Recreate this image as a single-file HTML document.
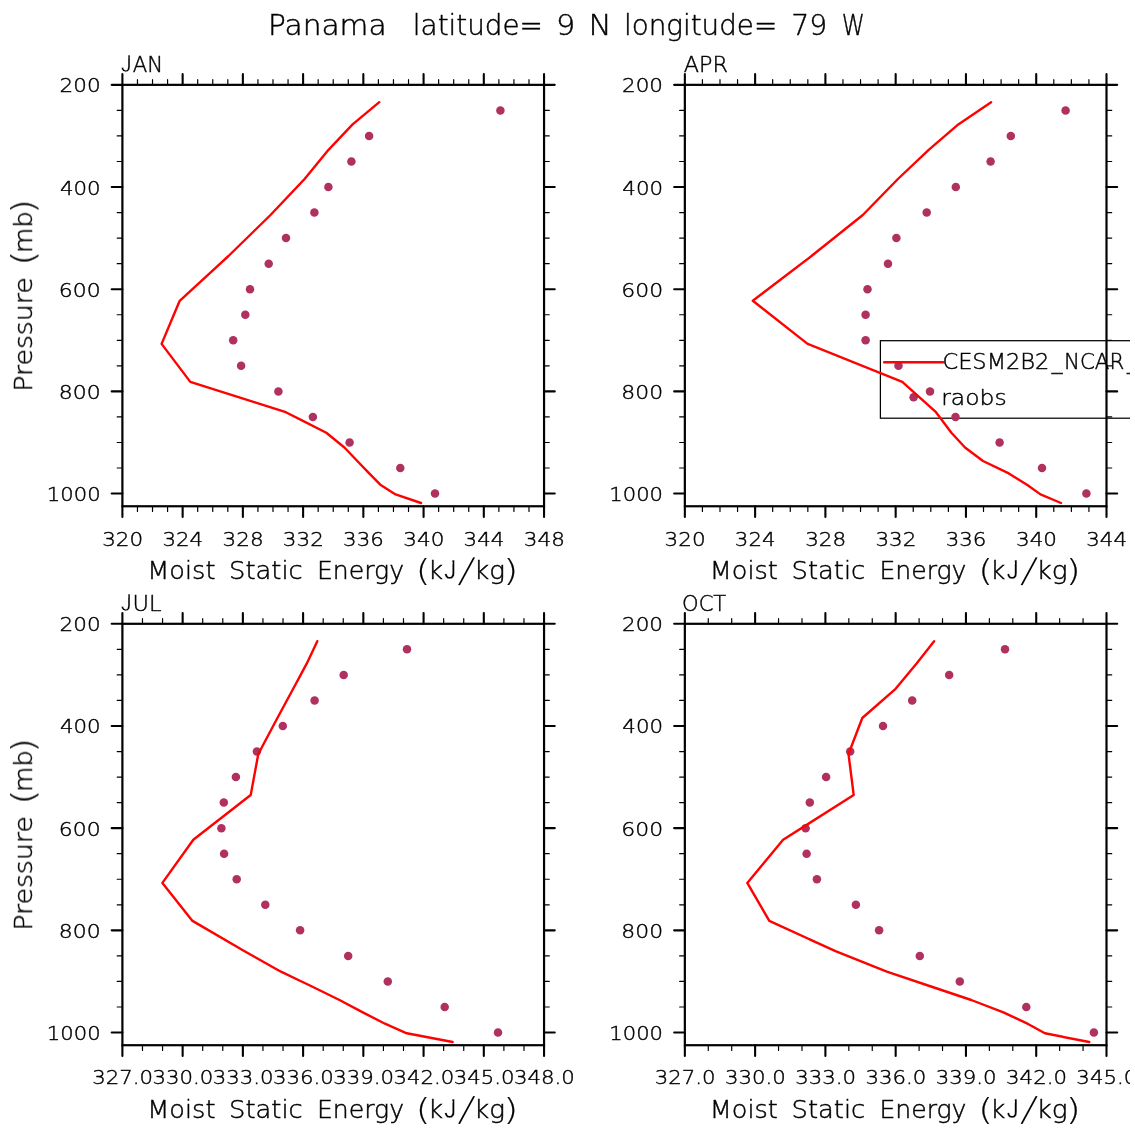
<!DOCTYPE html>
<html lang="en"><head><meta charset="utf-8"><title>Panama latitude= 9 N longitude= 79 W</title>
<style>html,body{margin:0;padding:0;background:#fff}svg{display:block;will-change:transform}text{font-family:'DejaVu Sans Light','DejaVu Sans','Liberation Sans',sans-serif;font-weight:200;fill:#000;stroke:#000;stroke-width:.45px;white-space:pre}.lj{font-family:"Liberation Sans",sans-serif;stroke:#fff;stroke-width:.3px}.sl{stroke:none}.pp{stroke-width:.2px}.fr{fill:none;stroke:#000;stroke-width:2.2}.mj{stroke:#000;stroke-width:2.1;stroke-linecap:round}.mn{stroke:#000;stroke-width:1.2;stroke-linecap:round}.rl{fill:none;stroke:#f00;stroke-width:2.4;stroke-linejoin:round;stroke-linecap:round}.dt{fill:#b03060}</style></head><body>
<svg width="1135" height="1135" viewBox="0 0 1135 1135">
<rect width="1135" height="1135" fill="#fff"/>
<defs><clipPath id="cl"><rect x="0" y="0" width="1129.8" height="1135"/></clipPath></defs>
<g clip-path="url(#cl)" opacity="0.999">
<g id="main-title">
<text><tspan x="268.06" y="35.20" font-size="27.7" textLength="118.47" lengthAdjust="spacingAndGlyphs">Panama</tspan>  <tspan x="412.86" y="35.20" font-size="27.7" textLength="130.02" lengthAdjust="spacingAndGlyphs">latitude=</tspan> <tspan x="555.96" y="35.20" font-size="27.7" textLength="19.27" lengthAdjust="spacingAndGlyphs">9</tspan> <tspan x="588.51" y="35.20" font-size="27.7" textLength="23.19" lengthAdjust="spacingAndGlyphs">N</tspan> <tspan x="624.06" y="35.20" font-size="27.7" textLength="153.11" lengthAdjust="spacingAndGlyphs">longitude=</tspan> <tspan x="791.20" y="35.20" font-size="27.7" textLength="35.88" lengthAdjust="spacingAndGlyphs">79</tspan> <tspan x="841.84" y="35.20" font-size="27.7" textLength="23.09" lengthAdjust="spacingAndGlyphs">W</tspan></text>
</g>
<g id="panel-jan">
<path class="mn" d="M137.46 84.85v-5.2M137.46 506.26v5.2M152.52 84.85v-5.2M152.52 506.26v5.2M167.58 84.85v-5.2M167.58 506.26v5.2M197.69 84.85v-5.2M197.69 506.26v5.2M212.75 84.85v-5.2M212.75 506.26v5.2M227.81 84.85v-5.2M227.81 506.26v5.2M257.93 84.85v-5.2M257.93 506.26v5.2M272.99 84.85v-5.2M272.99 506.26v5.2M288.05 84.85v-5.2M288.05 506.26v5.2M318.17 84.85v-5.2M318.17 506.26v5.2M333.23 84.85v-5.2M333.23 506.26v5.2M348.28 84.85v-5.2M348.28 506.26v5.2M378.40 84.85v-5.2M378.40 506.26v5.2M393.46 84.85v-5.2M393.46 506.26v5.2M408.52 84.85v-5.2M408.52 506.26v5.2M438.64 84.85v-5.2M438.64 506.26v5.2M453.70 84.85v-5.2M453.70 506.26v5.2M468.76 84.85v-5.2M468.76 506.26v5.2M498.87 84.85v-5.2M498.87 506.26v5.2M513.93 84.85v-5.2M513.93 506.26v5.2M528.99 84.85v-5.2M528.99 506.26v5.2M122.40 110.39h-5.2M544.05 110.39h5.2M122.40 135.94h-5.2M544.05 135.94h5.2M122.40 161.49h-5.2M544.05 161.49h5.2M122.40 212.57h-5.2M544.05 212.57h5.2M122.40 238.12h-5.2M544.05 238.12h5.2M122.40 263.66h-5.2M544.05 263.66h5.2M122.40 314.75h-5.2M544.05 314.75h5.2M122.40 340.30h-5.2M544.05 340.30h5.2M122.40 365.85h-5.2M544.05 365.85h5.2M122.40 416.94h-5.2M544.05 416.94h5.2M122.40 442.48h-5.2M544.05 442.48h5.2M122.40 468.02h-5.2M544.05 468.02h5.2"/>
<path class="mj" d="M122.40 84.85v-10.7M122.40 506.26v10.7M182.64 84.85v-10.7M182.64 506.26v10.7M242.87 84.85v-10.7M242.87 506.26v10.7M303.11 84.85v-10.7M303.11 506.26v10.7M363.34 84.85v-10.7M363.34 506.26v10.7M423.58 84.85v-10.7M423.58 506.26v10.7M483.81 84.85v-10.7M483.81 506.26v10.7M544.05 84.85v-10.7M544.05 506.26v10.7M122.40 84.85h-10.7M544.05 84.85h10.7M122.40 187.03h-10.7M544.05 187.03h10.7M122.40 289.21h-10.7M544.05 289.21h10.7M122.40 391.39h-10.7M544.05 391.39h10.7M122.40 493.57h-10.7M544.05 493.57h10.7"/>
<rect class="fr" x="122.40" y="84.85" width="421.65" height="421.41"/>
<circle class="dt" cx="500.4" cy="110.4" r="4.25"/>
<circle class="dt" cx="369.1" cy="135.9" r="4.25"/>
<circle class="dt" cx="351.4" cy="161.5" r="4.25"/>
<circle class="dt" cx="328.4" cy="187.0" r="4.25"/>
<circle class="dt" cx="314.4" cy="212.6" r="4.25"/>
<circle class="dt" cx="286.0" cy="238.1" r="4.25"/>
<circle class="dt" cx="268.7" cy="263.7" r="4.25"/>
<circle class="dt" cx="250.0" cy="289.2" r="4.25"/>
<circle class="dt" cx="245.3" cy="314.8" r="4.25"/>
<circle class="dt" cx="233.2" cy="340.3" r="4.25"/>
<circle class="dt" cx="241.1" cy="365.8" r="4.25"/>
<circle class="dt" cx="278.4" cy="391.4" r="4.25"/>
<circle class="dt" cx="312.9" cy="416.9" r="4.25"/>
<circle class="dt" cx="349.6" cy="442.5" r="4.25"/>
<circle class="dt" cx="400.3" cy="468.0" r="4.25"/>
<circle class="dt" cx="435.0" cy="493.6" r="4.25"/>
<polyline class="rl" points="379.3,102.2 352.6,124.4 328.5,149.8 304.6,179.0 270.5,215.0 228.5,256.0 179.7,300.8 161.6,343.9 190.3,381.9 285.8,412.2 326.3,432.7 344.4,447.5 357.3,461.0 369.2,473.4 380.3,484.7 395.6,494.4 421.0,503.0"/>
<text><tspan class="lj" x="121.07" y="71.93" font-size="23.93" textLength="10.55" lengthAdjust="spacingAndGlyphs">J</tspan><tspan x="132.77" y="71.90" font-size="21.8" textLength="30.37" lengthAdjust="spacingAndGlyphs">AN</tspan></text>
<text><tspan x="59.56" y="92.35" font-size="20.2" textLength="41.07" lengthAdjust="spacingAndGlyphs">200</tspan></text>
<text><tspan x="59.90" y="194.53" font-size="20.2" textLength="40.71" lengthAdjust="spacingAndGlyphs">400</tspan></text>
<text><tspan x="58.85" y="296.71" font-size="20.2" textLength="41.81" lengthAdjust="spacingAndGlyphs">600</tspan></text>
<text><tspan x="58.85" y="398.89" font-size="20.2" textLength="41.81" lengthAdjust="spacingAndGlyphs">800</tspan></text>
<text><tspan x="46.89" y="501.07" font-size="20.2" textLength="53.69" lengthAdjust="spacingAndGlyphs">1000</tspan></text>
<text><tspan x="102.16" y="545.50" font-size="20.2" textLength="41.07" lengthAdjust="spacingAndGlyphs">320</tspan></text>
<text><tspan x="162.40" y="545.50" font-size="20.2" textLength="40.71" lengthAdjust="spacingAndGlyphs">324</tspan></text>
<text><tspan x="222.63" y="545.50" font-size="20.2" textLength="41.07" lengthAdjust="spacingAndGlyphs">328</tspan></text>
<text><tspan x="282.86" y="545.50" font-size="20.2" textLength="41.07" lengthAdjust="spacingAndGlyphs">332</tspan></text>
<text><tspan x="343.11" y="545.50" font-size="20.2" textLength="40.71" lengthAdjust="spacingAndGlyphs">336</tspan></text>
<text><tspan x="403.33" y="545.50" font-size="20.2" textLength="41.07" lengthAdjust="spacingAndGlyphs">340</tspan></text>
<text><tspan x="463.58" y="545.50" font-size="20.2" textLength="40.71" lengthAdjust="spacingAndGlyphs">344</tspan></text>
<text><tspan x="523.81" y="545.50" font-size="20.2" textLength="41.07" lengthAdjust="spacingAndGlyphs">348</tspan></text>
<text><tspan x="147.31" y="579.30" font-size="24.4" textLength="68.13" lengthAdjust="spacingAndGlyphs">Moist</tspan> <tspan x="229.09" y="579.30" font-size="24.4" textLength="73.70" lengthAdjust="spacingAndGlyphs">Static</tspan> <tspan x="316.95" y="579.30" font-size="24.4" textLength="87.08" lengthAdjust="spacingAndGlyphs">Energy</tspan> <tspan class="pp" x="415.86" y="580.63" font-size="30.34" textLength="14.77" lengthAdjust="spacingAndGlyphs">(</tspan><tspan x="427.92" y="579.30" font-size="24.4" textLength="15.12" lengthAdjust="spacingAndGlyphs">k</tspan><tspan class="lj" x="444.23" y="579.38" font-size="26.85" textLength="11.97" lengthAdjust="spacingAndGlyphs">J</tspan><tspan class="sl" x="458.20" y="581.40" font-size="36.7" rotate="11.3">/</tspan><tspan x="474.08" y="579.30" font-size="24.4" textLength="15.27" lengthAdjust="spacingAndGlyphs">k</tspan><tspan x="489.35" y="579.30" font-size="24.4" textLength="15.76" lengthAdjust="spacingAndGlyphs">g</tspan><tspan class="pp" x="503.30" y="580.63" font-size="30.34" textLength="14.98" lengthAdjust="spacingAndGlyphs">)</tspan></text>
<text transform="translate(32.00 388.70) rotate(-90)"><tspan x="-2.93" y="0.00" font-size="24.4" textLength="114.36" lengthAdjust="spacingAndGlyphs">Pressure</tspan> <tspan class="pp" x="122.83" y="1.72" font-size="31.12" textLength="15.61" lengthAdjust="spacingAndGlyphs">(</tspan><tspan x="135.76" y="0.00" font-size="24.4" textLength="41.71" lengthAdjust="spacingAndGlyphs">mb</tspan><tspan class="pp" x="175.12" y="1.72" font-size="31.12" textLength="14.57" lengthAdjust="spacingAndGlyphs">)</tspan></text>
</g>
<g id="panel-apr">
<rect id="legend-box" x="880.4" y="340.7" width="260" height="77.5" fill="none" stroke="#000" stroke-width="1.25"/>
<path class="mn" d="M702.42 84.85v-5.2M702.42 506.26v5.2M719.99 84.85v-5.2M719.99 506.26v5.2M737.56 84.85v-5.2M737.56 506.26v5.2M772.69 84.85v-5.2M772.69 506.26v5.2M790.26 84.85v-5.2M790.26 506.26v5.2M807.83 84.85v-5.2M807.83 506.26v5.2M842.97 84.85v-5.2M842.97 506.26v5.2M860.54 84.85v-5.2M860.54 506.26v5.2M878.11 84.85v-5.2M878.11 506.26v5.2M913.24 84.85v-5.2M913.24 506.26v5.2M930.81 84.85v-5.2M930.81 506.26v5.2M948.38 84.85v-5.2M948.38 506.26v5.2M983.52 84.85v-5.2M983.52 506.26v5.2M1001.09 84.85v-5.2M1001.09 506.26v5.2M1018.66 84.85v-5.2M1018.66 506.26v5.2M1053.79 84.85v-5.2M1053.79 506.26v5.2M1071.36 84.85v-5.2M1071.36 506.26v5.2M1088.93 84.85v-5.2M1088.93 506.26v5.2M684.85 110.39h-5.2M1106.50 110.39h5.2M684.85 135.94h-5.2M1106.50 135.94h5.2M684.85 161.49h-5.2M1106.50 161.49h5.2M684.85 212.57h-5.2M1106.50 212.57h5.2M684.85 238.12h-5.2M1106.50 238.12h5.2M684.85 263.66h-5.2M1106.50 263.66h5.2M684.85 314.75h-5.2M1106.50 314.75h5.2M684.85 340.30h-5.2M1106.50 340.30h5.2M684.85 365.85h-5.2M1106.50 365.85h5.2M684.85 416.94h-5.2M1106.50 416.94h5.2M684.85 442.48h-5.2M1106.50 442.48h5.2M684.85 468.02h-5.2M1106.50 468.02h5.2"/>
<path class="mj" d="M684.85 84.85v-10.7M684.85 506.26v10.7M755.12 84.85v-10.7M755.12 506.26v10.7M825.40 84.85v-10.7M825.40 506.26v10.7M895.67 84.85v-10.7M895.67 506.26v10.7M965.95 84.85v-10.7M965.95 506.26v10.7M1036.22 84.85v-10.7M1036.22 506.26v10.7M1106.50 84.85v-10.7M1106.50 506.26v10.7M684.85 84.85h-10.7M1106.50 84.85h10.7M684.85 187.03h-10.7M1106.50 187.03h10.7M684.85 289.21h-10.7M1106.50 289.21h10.7M684.85 391.39h-10.7M1106.50 391.39h10.7M684.85 493.57h-10.7M1106.50 493.57h10.7"/>
<rect class="fr" x="684.85" y="84.85" width="421.65" height="421.41"/>
<circle class="dt" cx="1065.6" cy="110.4" r="4.25"/>
<circle class="dt" cx="1010.8" cy="135.9" r="4.25"/>
<circle class="dt" cx="990.6" cy="161.5" r="4.25"/>
<circle class="dt" cx="955.8" cy="187.0" r="4.25"/>
<circle class="dt" cx="926.7" cy="212.6" r="4.25"/>
<circle class="dt" cx="896.4" cy="238.1" r="4.25"/>
<circle class="dt" cx="888.0" cy="263.7" r="4.25"/>
<circle class="dt" cx="867.5" cy="289.2" r="4.25"/>
<circle class="dt" cx="865.6" cy="314.8" r="4.25"/>
<circle class="dt" cx="865.6" cy="340.3" r="4.25"/>
<circle class="dt" cx="898.5" cy="365.8" r="4.25"/>
<circle class="dt" cx="930.0" cy="391.4" r="4.25"/>
<circle class="dt" cx="955.5" cy="416.9" r="4.25"/>
<circle class="dt" cx="999.6" cy="442.5" r="4.25"/>
<circle class="dt" cx="1042.0" cy="468.0" r="4.25"/>
<circle class="dt" cx="1086.4" cy="493.6" r="4.25"/>
<circle class="dt" cx="913.6" cy="397.2" r="4.25"/>
<polyline class="rl" points="991.1,102.2 958.3,124.4 928.7,149.8 897.9,179.0 862.8,215.0 811.5,256.0 752.8,300.8 807.6,343.9 902.3,381.9 936.0,412.2 951.4,432.7 965.0,447.5 983.0,461.0 1008.8,473.4 1027.0,484.7 1040.5,494.4 1061.0,503.0"/>
<path class="rl" d="M884.2 362.2H943.2"/>
<text><tspan x="942.44" y="369.10" font-size="21.8" textLength="106.97" lengthAdjust="spacingAndGlyphs">CESM2B2</tspan><tspan x="1051.64" y="369.10" font-size="21.8" textLength="10.82" lengthAdjust="spacingAndGlyphs">_</tspan><tspan x="1063.96" y="369.10" font-size="21.8" textLength="60.36" lengthAdjust="spacingAndGlyphs">NCAR</tspan><tspan x="1127.04" y="369.10" font-size="21.8" textLength="10.82" lengthAdjust="spacingAndGlyphs">_</tspan></text>
<text><tspan x="941.24" y="405.20" font-size="21.8" textLength="65.35" lengthAdjust="spacingAndGlyphs">raobs</tspan></text>
<text><tspan x="683.75" y="71.90" font-size="21.8" textLength="44.21" lengthAdjust="spacingAndGlyphs">APR</tspan></text>
<text><tspan x="622.01" y="92.35" font-size="20.2" textLength="41.07" lengthAdjust="spacingAndGlyphs">200</tspan></text>
<text><tspan x="622.35" y="194.53" font-size="20.2" textLength="40.71" lengthAdjust="spacingAndGlyphs">400</tspan></text>
<text><tspan x="621.30" y="296.71" font-size="20.2" textLength="41.81" lengthAdjust="spacingAndGlyphs">600</tspan></text>
<text><tspan x="621.30" y="398.89" font-size="20.2" textLength="41.81" lengthAdjust="spacingAndGlyphs">800</tspan></text>
<text><tspan x="609.34" y="501.07" font-size="20.2" textLength="53.69" lengthAdjust="spacingAndGlyphs">1000</tspan></text>
<text><tspan x="664.61" y="545.50" font-size="20.2" textLength="41.07" lengthAdjust="spacingAndGlyphs">320</tspan></text>
<text><tspan x="734.89" y="545.50" font-size="20.2" textLength="40.71" lengthAdjust="spacingAndGlyphs">324</tspan></text>
<text><tspan x="805.16" y="545.50" font-size="20.2" textLength="41.07" lengthAdjust="spacingAndGlyphs">328</tspan></text>
<text><tspan x="875.43" y="545.50" font-size="20.2" textLength="41.07" lengthAdjust="spacingAndGlyphs">332</tspan></text>
<text><tspan x="945.72" y="545.50" font-size="20.2" textLength="40.71" lengthAdjust="spacingAndGlyphs">336</tspan></text>
<text><tspan x="1015.98" y="545.50" font-size="20.2" textLength="41.07" lengthAdjust="spacingAndGlyphs">340</tspan></text>
<text><tspan x="1086.27" y="545.50" font-size="20.2" textLength="40.71" lengthAdjust="spacingAndGlyphs">344</tspan></text>
<text><tspan x="709.76" y="579.30" font-size="24.4" textLength="68.13" lengthAdjust="spacingAndGlyphs">Moist</tspan> <tspan x="791.54" y="579.30" font-size="24.4" textLength="73.70" lengthAdjust="spacingAndGlyphs">Static</tspan> <tspan x="879.40" y="579.30" font-size="24.4" textLength="87.08" lengthAdjust="spacingAndGlyphs">Energy</tspan> <tspan class="pp" x="978.31" y="580.63" font-size="30.34" textLength="14.77" lengthAdjust="spacingAndGlyphs">(</tspan><tspan x="990.37" y="579.30" font-size="24.4" textLength="15.12" lengthAdjust="spacingAndGlyphs">k</tspan><tspan class="lj" x="1006.68" y="579.38" font-size="26.85" textLength="11.97" lengthAdjust="spacingAndGlyphs">J</tspan><tspan class="sl" x="1020.65" y="581.40" font-size="36.7" rotate="11.3">/</tspan><tspan x="1036.53" y="579.30" font-size="24.4" textLength="15.27" lengthAdjust="spacingAndGlyphs">k</tspan><tspan x="1051.80" y="579.30" font-size="24.4" textLength="15.76" lengthAdjust="spacingAndGlyphs">g</tspan><tspan class="pp" x="1065.75" y="580.63" font-size="30.34" textLength="14.98" lengthAdjust="spacingAndGlyphs">)</tspan></text>
</g>
<g id="panel-jul">
<path class="mn" d="M142.48 623.80v-5.2M142.48 1045.21v5.2M162.56 623.80v-5.2M162.56 1045.21v5.2M202.71 623.80v-5.2M202.71 1045.21v5.2M222.79 623.80v-5.2M222.79 1045.21v5.2M262.95 623.80v-5.2M262.95 1045.21v5.2M283.03 623.80v-5.2M283.03 1045.21v5.2M323.19 623.80v-5.2M323.19 1045.21v5.2M343.26 623.80v-5.2M343.26 1045.21v5.2M383.42 623.80v-5.2M383.42 1045.21v5.2M403.50 623.80v-5.2M403.50 1045.21v5.2M443.66 623.80v-5.2M443.66 1045.21v5.2M463.74 623.80v-5.2M463.74 1045.21v5.2M503.89 623.80v-5.2M503.89 1045.21v5.2M523.97 623.80v-5.2M523.97 1045.21v5.2M122.40 649.35h-5.2M544.05 649.35h5.2M122.40 674.89h-5.2M544.05 674.89h5.2M122.40 700.44h-5.2M544.05 700.44h5.2M122.40 751.53h-5.2M544.05 751.53h5.2M122.40 777.07h-5.2M544.05 777.07h5.2M122.40 802.62h-5.2M544.05 802.62h5.2M122.40 853.71h-5.2M544.05 853.71h5.2M122.40 879.25h-5.2M544.05 879.25h5.2M122.40 904.80h-5.2M544.05 904.80h5.2M122.40 955.89h-5.2M544.05 955.89h5.2M122.40 981.43h-5.2M544.05 981.43h5.2M122.40 1006.98h-5.2M544.05 1006.98h5.2"/>
<path class="mj" d="M122.40 623.80v-10.7M122.40 1045.21v10.7M182.64 623.80v-10.7M182.64 1045.21v10.7M242.87 623.80v-10.7M242.87 1045.21v10.7M303.11 623.80v-10.7M303.11 1045.21v10.7M363.34 623.80v-10.7M363.34 1045.21v10.7M423.58 623.80v-10.7M423.58 1045.21v10.7M483.81 623.80v-10.7M483.81 1045.21v10.7M544.05 623.80v-10.7M544.05 1045.21v10.7M122.40 623.80h-10.7M544.05 623.80h10.7M122.40 725.98h-10.7M544.05 725.98h10.7M122.40 828.16h-10.7M544.05 828.16h10.7M122.40 930.34h-10.7M544.05 930.34h10.7M122.40 1032.52h-10.7M544.05 1032.52h10.7"/>
<rect class="fr" x="122.40" y="623.80" width="421.65" height="421.41"/>
<circle class="dt" cx="407.0" cy="649.3" r="4.25"/>
<circle class="dt" cx="343.7" cy="674.9" r="4.25"/>
<circle class="dt" cx="314.6" cy="700.4" r="4.25"/>
<circle class="dt" cx="282.8" cy="726.0" r="4.25"/>
<circle class="dt" cx="256.9" cy="751.5" r="4.25"/>
<circle class="dt" cx="235.9" cy="777.1" r="4.25"/>
<circle class="dt" cx="223.8" cy="802.6" r="4.25"/>
<circle class="dt" cx="221.4" cy="828.2" r="4.25"/>
<circle class="dt" cx="224.1" cy="853.7" r="4.25"/>
<circle class="dt" cx="236.7" cy="879.3" r="4.25"/>
<circle class="dt" cx="265.3" cy="904.8" r="4.25"/>
<circle class="dt" cx="300.1" cy="930.3" r="4.25"/>
<circle class="dt" cx="348.2" cy="955.9" r="4.25"/>
<circle class="dt" cx="387.8" cy="981.4" r="4.25"/>
<circle class="dt" cx="444.7" cy="1007.0" r="4.25"/>
<circle class="dt" cx="498.0" cy="1032.5" r="4.25"/>
<polyline class="rl" points="317.3,641.2 306.8,663.4 293.2,688.8 277.4,718.0 258.3,754.0 250.7,795.0 193.3,839.8 162.4,882.9 192.5,920.9 244.6,951.2 281.0,971.7 312.0,986.5 339.5,1000.0 362.8,1012.4 385.0,1023.7 406.8,1033.3 452.6,1042.0"/>
<text><tspan class="lj" x="121.07" y="610.93" font-size="23.93" textLength="10.55" lengthAdjust="spacingAndGlyphs">J</tspan><tspan x="132.64" y="610.90" font-size="21.8" textLength="29.05" lengthAdjust="spacingAndGlyphs">UL</tspan></text>
<text><tspan x="59.56" y="631.30" font-size="20.2" textLength="41.07" lengthAdjust="spacingAndGlyphs">200</tspan></text>
<text><tspan x="59.90" y="733.48" font-size="20.2" textLength="40.71" lengthAdjust="spacingAndGlyphs">400</tspan></text>
<text><tspan x="58.85" y="835.66" font-size="20.2" textLength="41.81" lengthAdjust="spacingAndGlyphs">600</tspan></text>
<text><tspan x="58.85" y="937.84" font-size="20.2" textLength="41.81" lengthAdjust="spacingAndGlyphs">800</tspan></text>
<text><tspan x="46.89" y="1040.02" font-size="20.2" textLength="53.69" lengthAdjust="spacingAndGlyphs">1000</tspan></text>
<text><tspan x="92.27" y="1084.45" font-size="20.2" textLength="60.83" lengthAdjust="spacingAndGlyphs">327.0</tspan></text>
<text><tspan x="152.51" y="1084.45" font-size="20.2" textLength="60.83" lengthAdjust="spacingAndGlyphs">330.0</tspan></text>
<text><tspan x="212.74" y="1084.45" font-size="20.2" textLength="60.83" lengthAdjust="spacingAndGlyphs">333.0</tspan></text>
<text><tspan x="272.98" y="1084.45" font-size="20.2" textLength="60.83" lengthAdjust="spacingAndGlyphs">336.0</tspan></text>
<text><tspan x="333.21" y="1084.45" font-size="20.2" textLength="60.83" lengthAdjust="spacingAndGlyphs">339.0</tspan></text>
<text><tspan x="393.45" y="1084.45" font-size="20.2" textLength="60.83" lengthAdjust="spacingAndGlyphs">342.0</tspan></text>
<text><tspan x="453.69" y="1084.45" font-size="20.2" textLength="60.83" lengthAdjust="spacingAndGlyphs">345.0</tspan></text>
<text><tspan x="513.92" y="1084.45" font-size="20.2" textLength="60.83" lengthAdjust="spacingAndGlyphs">348.0</tspan></text>
<text><tspan x="147.31" y="1118.25" font-size="24.4" textLength="68.13" lengthAdjust="spacingAndGlyphs">Moist</tspan> <tspan x="229.09" y="1118.25" font-size="24.4" textLength="73.70" lengthAdjust="spacingAndGlyphs">Static</tspan> <tspan x="316.95" y="1118.25" font-size="24.4" textLength="87.08" lengthAdjust="spacingAndGlyphs">Energy</tspan> <tspan class="pp" x="415.86" y="1119.58" font-size="30.34" textLength="14.77" lengthAdjust="spacingAndGlyphs">(</tspan><tspan x="427.92" y="1118.25" font-size="24.4" textLength="15.12" lengthAdjust="spacingAndGlyphs">k</tspan><tspan class="lj" x="444.23" y="1118.33" font-size="26.85" textLength="11.97" lengthAdjust="spacingAndGlyphs">J</tspan><tspan class="sl" x="458.20" y="1120.35" font-size="36.7" rotate="11.3">/</tspan><tspan x="474.08" y="1118.25" font-size="24.4" textLength="15.27" lengthAdjust="spacingAndGlyphs">k</tspan><tspan x="489.35" y="1118.25" font-size="24.4" textLength="15.76" lengthAdjust="spacingAndGlyphs">g</tspan><tspan class="pp" x="503.30" y="1119.58" font-size="30.34" textLength="14.98" lengthAdjust="spacingAndGlyphs">)</tspan></text>
<text transform="translate(32.00 927.65) rotate(-90)"><tspan x="-2.93" y="0.00" font-size="24.4" textLength="114.36" lengthAdjust="spacingAndGlyphs">Pressure</tspan> <tspan class="pp" x="122.83" y="1.72" font-size="31.12" textLength="15.61" lengthAdjust="spacingAndGlyphs">(</tspan><tspan x="135.76" y="0.00" font-size="24.4" textLength="41.71" lengthAdjust="spacingAndGlyphs">mb</tspan><tspan class="pp" x="175.12" y="1.72" font-size="31.12" textLength="14.57" lengthAdjust="spacingAndGlyphs">)</tspan></text>
</g>
<g id="panel-oct">
<path class="mn" d="M708.27 623.80v-5.2M708.27 1045.21v5.2M731.70 623.80v-5.2M731.70 1045.21v5.2M778.55 623.80v-5.2M778.55 1045.21v5.2M801.98 623.80v-5.2M801.98 1045.21v5.2M848.82 623.80v-5.2M848.82 1045.21v5.2M872.25 623.80v-5.2M872.25 1045.21v5.2M919.10 623.80v-5.2M919.10 1045.21v5.2M942.52 623.80v-5.2M942.52 1045.21v5.2M989.38 623.80v-5.2M989.38 1045.21v5.2M1012.80 623.80v-5.2M1012.80 1045.21v5.2M1059.65 623.80v-5.2M1059.65 1045.21v5.2M1083.07 623.80v-5.2M1083.07 1045.21v5.2M684.85 649.35h-5.2M1106.50 649.35h5.2M684.85 674.89h-5.2M1106.50 674.89h5.2M684.85 700.44h-5.2M1106.50 700.44h5.2M684.85 751.53h-5.2M1106.50 751.53h5.2M684.85 777.07h-5.2M1106.50 777.07h5.2M684.85 802.62h-5.2M1106.50 802.62h5.2M684.85 853.71h-5.2M1106.50 853.71h5.2M684.85 879.25h-5.2M1106.50 879.25h5.2M684.85 904.80h-5.2M1106.50 904.80h5.2M684.85 955.89h-5.2M1106.50 955.89h5.2M684.85 981.43h-5.2M1106.50 981.43h5.2M684.85 1006.98h-5.2M1106.50 1006.98h5.2"/>
<path class="mj" d="M684.85 623.80v-10.7M684.85 1045.21v10.7M755.12 623.80v-10.7M755.12 1045.21v10.7M825.40 623.80v-10.7M825.40 1045.21v10.7M895.67 623.80v-10.7M895.67 1045.21v10.7M965.95 623.80v-10.7M965.95 1045.21v10.7M1036.22 623.80v-10.7M1036.22 1045.21v10.7M1106.50 623.80v-10.7M1106.50 1045.21v10.7M684.85 623.80h-10.7M1106.50 623.80h10.7M684.85 725.98h-10.7M1106.50 725.98h10.7M684.85 828.16h-10.7M1106.50 828.16h10.7M684.85 930.34h-10.7M1106.50 930.34h10.7M684.85 1032.52h-10.7M1106.50 1032.52h10.7"/>
<rect class="fr" x="684.85" y="623.80" width="421.65" height="421.41"/>
<circle class="dt" cx="1005.0" cy="649.3" r="4.25"/>
<circle class="dt" cx="949.2" cy="674.9" r="4.25"/>
<circle class="dt" cx="912.2" cy="700.4" r="4.25"/>
<circle class="dt" cx="883.0" cy="726.0" r="4.25"/>
<circle class="dt" cx="850.2" cy="751.5" r="4.25"/>
<circle class="dt" cx="826.1" cy="777.1" r="4.25"/>
<circle class="dt" cx="809.8" cy="802.6" r="4.25"/>
<circle class="dt" cx="805.6" cy="828.2" r="4.25"/>
<circle class="dt" cx="806.6" cy="853.7" r="4.25"/>
<circle class="dt" cx="816.9" cy="879.3" r="4.25"/>
<circle class="dt" cx="855.9" cy="904.8" r="4.25"/>
<circle class="dt" cx="879.1" cy="930.3" r="4.25"/>
<circle class="dt" cx="919.8" cy="955.9" r="4.25"/>
<circle class="dt" cx="959.8" cy="981.4" r="4.25"/>
<circle class="dt" cx="1026.3" cy="1007.0" r="4.25"/>
<circle class="dt" cx="1093.9" cy="1032.5" r="4.25"/>
<polyline class="rl" points="934.1,641.2 916.6,663.4 895.6,688.8 862.3,718.0 848.5,754.0 853.7,795.0 783.1,839.8 747.3,882.9 769.3,920.9 835.5,951.2 886.8,971.7 931.0,986.5 971.3,1000.0 1003.4,1012.4 1027.5,1023.7 1044.9,1033.3 1089.2,1042.0"/>
<text><tspan x="682.05" y="610.90" font-size="21.8" textLength="44.21" lengthAdjust="spacingAndGlyphs">OCT</tspan></text>
<text><tspan x="622.01" y="631.30" font-size="20.2" textLength="41.07" lengthAdjust="spacingAndGlyphs">200</tspan></text>
<text><tspan x="622.35" y="733.48" font-size="20.2" textLength="40.71" lengthAdjust="spacingAndGlyphs">400</tspan></text>
<text><tspan x="621.30" y="835.66" font-size="20.2" textLength="41.81" lengthAdjust="spacingAndGlyphs">600</tspan></text>
<text><tspan x="621.30" y="937.84" font-size="20.2" textLength="41.81" lengthAdjust="spacingAndGlyphs">800</tspan></text>
<text><tspan x="609.34" y="1040.02" font-size="20.2" textLength="53.69" lengthAdjust="spacingAndGlyphs">1000</tspan></text>
<text><tspan x="654.72" y="1084.45" font-size="20.2" textLength="60.83" lengthAdjust="spacingAndGlyphs">327.0</tspan></text>
<text><tspan x="725.00" y="1084.45" font-size="20.2" textLength="60.83" lengthAdjust="spacingAndGlyphs">330.0</tspan></text>
<text><tspan x="795.27" y="1084.45" font-size="20.2" textLength="60.83" lengthAdjust="spacingAndGlyphs">333.0</tspan></text>
<text><tspan x="865.55" y="1084.45" font-size="20.2" textLength="60.83" lengthAdjust="spacingAndGlyphs">336.0</tspan></text>
<text><tspan x="935.82" y="1084.45" font-size="20.2" textLength="60.83" lengthAdjust="spacingAndGlyphs">339.0</tspan></text>
<text><tspan x="1006.10" y="1084.45" font-size="20.2" textLength="60.83" lengthAdjust="spacingAndGlyphs">342.0</tspan></text>
<text><tspan x="1076.37" y="1084.45" font-size="20.2" textLength="60.83" lengthAdjust="spacingAndGlyphs">345.0</tspan></text>
<text><tspan x="709.76" y="1118.25" font-size="24.4" textLength="68.13" lengthAdjust="spacingAndGlyphs">Moist</tspan> <tspan x="791.54" y="1118.25" font-size="24.4" textLength="73.70" lengthAdjust="spacingAndGlyphs">Static</tspan> <tspan x="879.40" y="1118.25" font-size="24.4" textLength="87.08" lengthAdjust="spacingAndGlyphs">Energy</tspan> <tspan class="pp" x="978.31" y="1119.58" font-size="30.34" textLength="14.77" lengthAdjust="spacingAndGlyphs">(</tspan><tspan x="990.37" y="1118.25" font-size="24.4" textLength="15.12" lengthAdjust="spacingAndGlyphs">k</tspan><tspan class="lj" x="1006.68" y="1118.33" font-size="26.85" textLength="11.97" lengthAdjust="spacingAndGlyphs">J</tspan><tspan class="sl" x="1020.65" y="1120.35" font-size="36.7" rotate="11.3">/</tspan><tspan x="1036.53" y="1118.25" font-size="24.4" textLength="15.27" lengthAdjust="spacingAndGlyphs">k</tspan><tspan x="1051.80" y="1118.25" font-size="24.4" textLength="15.76" lengthAdjust="spacingAndGlyphs">g</tspan><tspan class="pp" x="1065.75" y="1119.58" font-size="30.34" textLength="14.98" lengthAdjust="spacingAndGlyphs">)</tspan></text>
</g>
<g id="j-trim"><rect x="123.62" y="54.10" width="4.63" height="4.2" fill="#fff"/><rect x="123.62" y="593.10" width="4.63" height="4.2" fill="#fff"/><rect x="447.12" y="559.50" width="5.25" height="4.6" fill="#fff"/><rect x="1009.58" y="559.50" width="5.25" height="4.6" fill="#fff"/><rect x="447.12" y="1098.45" width="5.25" height="4.6" fill="#fff"/><rect x="1009.58" y="1098.45" width="5.25" height="4.6" fill="#fff"/></g>
</g></svg></body></html>
